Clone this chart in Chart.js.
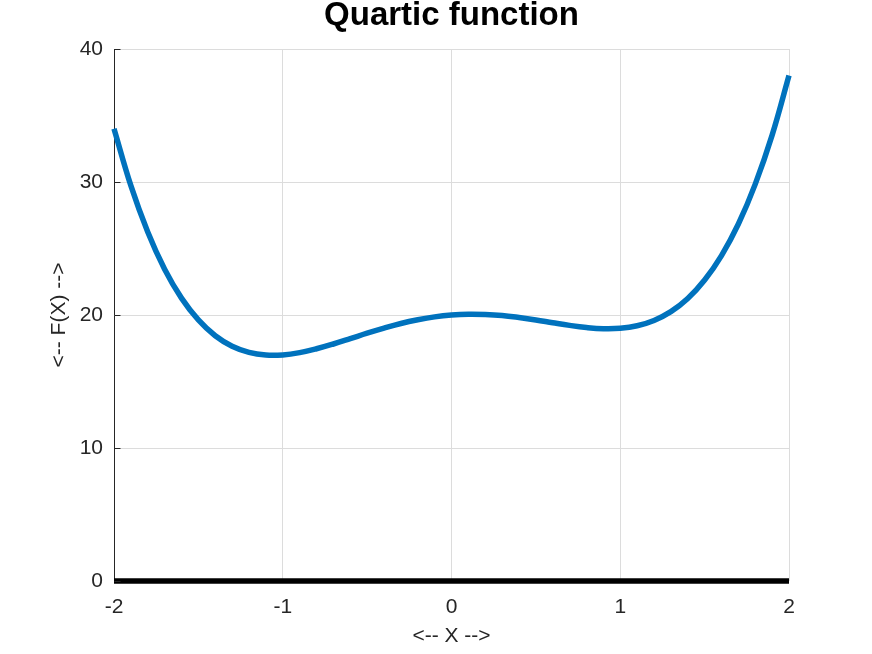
<!DOCTYPE html>
<html>
<head>
<meta charset="utf-8">
<script src="https://cdn.jsdelivr.net/npm/chart.js@4/dist/chart.umd.min.js"></script>
<style>
  html, body { margin: 0; padding: 0; background: #fff; }
  #wrap { width: 872px; height: 654px; }
</style>
</head>
<body>
<div id="wrap"><canvas id="c" width="872" height="654"></canvas></div>
<script>
const xValues = [-2.0, -1.9, -1.8, -1.7, -1.6, -1.5, -1.4, -1.3, -1.2, -1.1,
                 -1.0, -0.9, -0.8, -0.7, -0.6, -0.5, -0.4, -0.3, -0.2, -0.1,
                  0.0,  0.1,  0.2,  0.3,  0.4,  0.5,  0.6,  0.7,  0.8,  0.9,
                  1.0,  1.1,  1.2,  1.3,  1.4,  1.5,  1.6,  1.7,  1.8,  1.9, 2.0];
const fValues = [34.00, 29.72, 26.24, 23.44, 21.27, 19.63, 18.44, 17.65, 17.19, 16.99,
                 17.00, 17.17, 17.46, 17.82, 18.22, 18.63, 19.01, 19.36, 19.64, 19.86,
                 20.00, 20.06, 20.04, 19.96, 19.81, 19.63, 19.42, 19.22, 19.06, 18.97,
                 19.00, 19.19, 19.59, 20.25, 21.24, 22.63, 24.47, 26.84, 29.84, 33.52, 38.00];
// Zero baseline series
const zeroX = [-2, 2];
const zeroY = [0, 0];
// Tick labels
const xTickLabels = ['-2', '-1', '0', '1', '2'];
const yTickLabels = ['0', '10', '20', '30', '40'];
const titleText = 'Quartic function';
const xTitle = '<-- X -->';
const yTitle = '<-- F(X) -->';

const curve = xValues.map((x, i) => ({ x: x, y: fValues[i] }));
const zero = zeroX.map((x, i) => ({ x: x, y: zeroY[i] }));

const FONT = "'Liberation Sans', Arial, Helvetica, sans-serif";
const AXIS_COLOR = '#262626';

// short inward tick marks on the left axis
const inwardTicks = {
  id: 'inwardTicks',
  afterDatasetsDraw(chart) {
    const ctx = chart.ctx;
    const ys = chart.scales.y;
    const xs = chart.scales.x;
    ctx.save();
    ctx.strokeStyle = AXIS_COLOR;
    ctx.lineWidth = 1;
    ys.ticks.forEach(t => {
      const py = Math.round(ys.getPixelForValue(t.value)) + 0.5;
      const px = Math.round(xs.left) + 0.5;
      ctx.beginPath();
      ctx.moveTo(px, py);
      ctx.lineTo(px + 6, py);
      ctx.stroke();
    });
    ctx.restore();
  }
};

// title centred over the plot area (as in the reference)
const plotTitle = {
  id: 'plotTitle',
  afterDraw(chart) {
    const ctx = chart.ctx;
    const a = chart.chartArea;
    ctx.save();
    ctx.fillStyle = '#000';
    ctx.font = "bold 33px " + FONT;
    ctx.textAlign = 'center';
    ctx.textBaseline = 'middle';
    ctx.fillText(titleText, (a.left + a.right) / 2, 16);
    ctx.restore();
  }
};

new Chart(document.getElementById('c'), {
  type: 'line',
  data: {
    datasets: [
      {
        data: curve,
        borderColor: '#0072BD',
        borderWidth: 5.5,
        pointRadius: 0,
        tension: 0.4,
        fill: false,
        clip: false
      },
      {
        data: zero,
        borderColor: '#000000',
        borderWidth: 5.5,
        pointRadius: 0,
        tension: 0,
        fill: false,
        clip: false
      }
    ]
  },
  options: {
    responsive: false,
    animation: false,
    devicePixelRatio: 1,
    layout: { padding: { top: 49, right: 83, bottom: 5, left: 47 } },
    plugins: {
      legend: { display: false },
      tooltip: { enabled: false },
      title: { display: false }
    },
    scales: {
      x: {
        type: 'linear',
        min: -2, max: 2,
        afterFit(scale) { scale.height = 68; },
        afterBuildTicks(scale) {
          scale.ticks = xTickLabels.map(l => ({ value: parseFloat(l) }));
        },
        ticks: {
          stepSize: 1,
          padding: 14,
          color: AXIS_COLOR,
          font: { family: FONT, size: 21 },
          maxRotation: 0,
          callback: (v, i) => xTickLabels[i]
        },
        grid: { color: '#dcdcdc', lineWidth: 1, drawTicks: false },
        border: { display: false },
        title: {
          display: true,
          text: xTitle,
          color: AXIS_COLOR,
          font: { family: FONT, size: 21, lineHeight: 1.2 },
          padding: { top: 0, bottom: 0 }
        }
      },
      y: {
        type: 'linear',
        min: 0, max: 40,
        afterFit(scale) { scale.width = 67; },
        afterBuildTicks(scale) {
          scale.ticks = yTickLabels.map(l => ({ value: parseFloat(l) }));
        },
        ticks: {
          stepSize: 10,
          padding: 11,
          color: AXIS_COLOR,
          font: { family: FONT, size: 21 },
          callback: (v, i) => yTickLabels[i]
        },
        grid: { color: '#dcdcdc', lineWidth: 1, drawTicks: false },
        border: { display: true, color: AXIS_COLOR, width: 1 },
        title: {
          display: true,
          text: yTitle,
          color: AXIS_COLOR,
          font: { family: FONT, size: 21, lineHeight: 1.2 },
          padding: { top: 0, bottom: 0 }
        }
      }
    }
  },
  plugins: [inwardTicks, plotTitle]
});
</script>
</body>
</html>
